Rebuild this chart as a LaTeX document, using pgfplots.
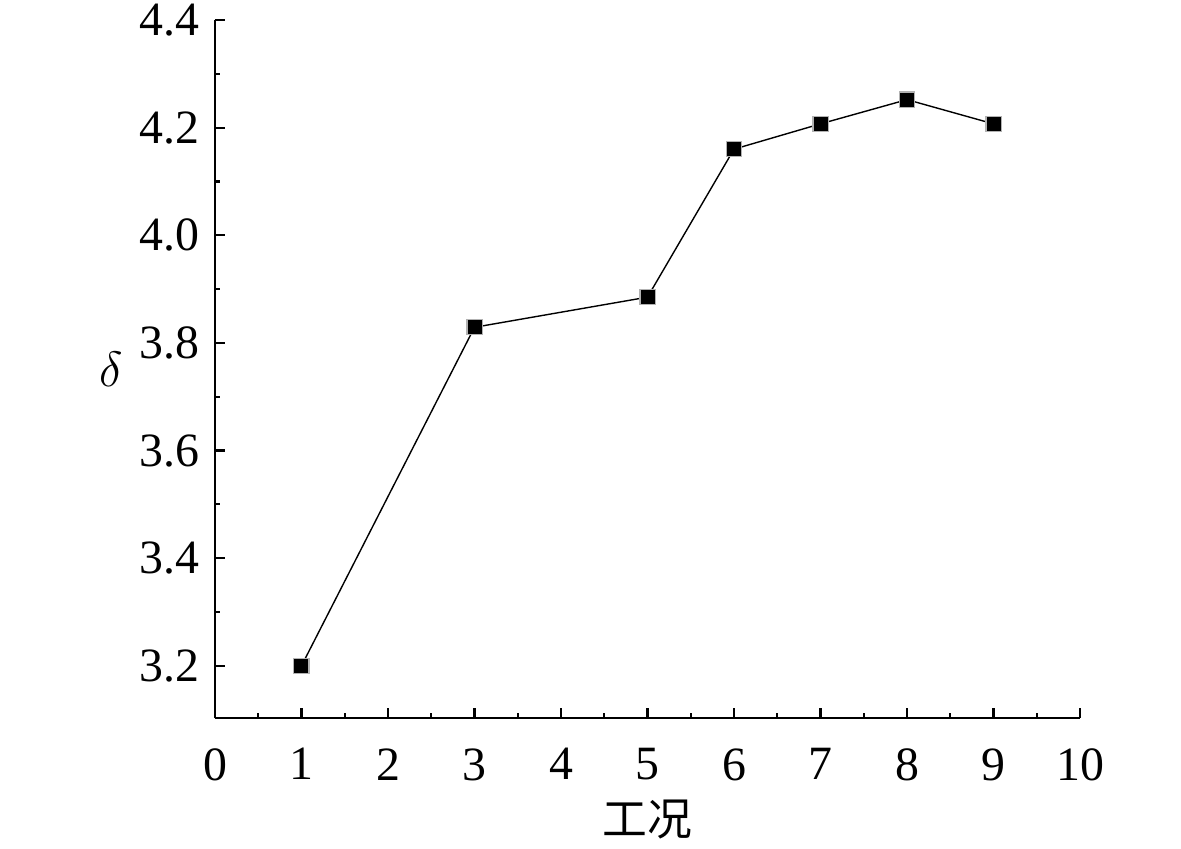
\documentclass[border=0pt]{standalone}
\usepackage{pgfplots}
\pgfplotsset{compat=1.18}
\usepackage{fontspec}
\setmainfont{Liberation Serif}
\newfontfamily\cjk{Noto Sans CJK SC}
\begin{document}
\fontsize{24}{28}\selectfont
\begin{tikzpicture}
\path[use as bounding box] (-107.5bp,-65.5bp) rectangle (483bp,359bp);
\begin{axis}[
  at={(0,0)}, anchor=origin,
  scale only axis,
  width=432.5bp, height=349bp,
  xmin=0, xmax=10, ymin=3.103, ymax=4.4,
  axis x line=bottom, axis y line=left,
  axis line style={-, line width=1.3bp},
  tick align=inside,
  tick style={line width=1.1bp, black},
  major tick length=5bp, minor tick length=2.5bp,
  xtick={0,1,...,10},
  ytick={3.2,3.4,...,4.41},
  minor x tick num=1, minor y tick num=1,
  yticklabel style={/pgf/number format/fixed, /pgf/number format/fixed zerofill, /pgf/number format/precision=1, xshift=0.5bp},
  xticklabel style={yshift=-7bp},
  /pgf/number format/assume math mode=true,
  ticklabel style={font=\fontsize{24}{28}\selectfont},
  clip=false,
]
\addplot[black, line width=0.7bp, mark=square*, mark size=3.8bp, mark options={fill=black, draw=gray!60, line width=0.6bp}]
coordinates {(1,3.200) (3,3.829) (5,3.885) (6,4.160) (7,4.207) (8,4.252) (9,4.207)};
\node[font=\fontsize{22.5}{26}\selectfont\cjk, anchor=center] at (rel axis cs:0.5,0) [yshift=-51bp] {工况};
\node[font=\fontsize{24}{28}\selectfont, anchor=center] at (rel axis cs:0,0.5) [xshift=-52bp] {$\delta$};
\end{axis}
\end{tikzpicture}
\end{document}
